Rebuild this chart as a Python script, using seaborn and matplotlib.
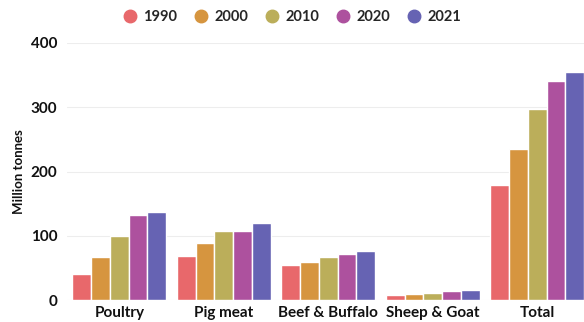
import matplotlib
matplotlib.use("Agg")
import matplotlib.pyplot as plt
import seaborn as sns
import pandas as pd
from matplotlib.lines import Line2D

categories = ["Poultry", "Pig meat", "Beef & Buffalo", "Sheep & Goat", "Total"]
years = ["1990", "2000", "2010", "2020", "2021"]
v1990 = [40, 68, 54, 8, 179]
v2000 = [67, 89, 59, 10, 235]
v2010 = [100, 107, 67, 11, 297]
v2020 = [132, 107, 72, 14, 341]
v2021 = [137, 120, 76, 15, 355]
colors = ["#E8686B", "#D6953F", "#BBAE5A", "#AD519E", "#6663B3"]

rows = []
for y, vals in zip(years, [v1990, v2000, v2010, v2020, v2021]):
    for c, v in zip(categories, vals):
        rows.append({"cat": c, "year": y, "val": v})
df = pd.DataFrame(rows)

sns.set_style("white")
plt.rcParams["font.family"] = ["Lato", "DejaVu Sans"]

fig = plt.figure(figsize=(5.84, 3.22), dpi=100)
ax = fig.add_axes([67 / 584, 22 / 322, 1 - 67 / 584, (300 - 43) / 322])

sns.barplot(data=df, x="cat", y="val", hue="year", order=categories,
            hue_order=years, palette=colors, width=0.9, saturation=1,
            edgecolor="white", linewidth=1.0, ax=ax, legend=False)

ax.set_ylim(0, 400)
ax.set_xlim(-0.5, (584 - 67) / 104.5 - 0.5)
ax.set_yticks([0, 100, 200, 300, 400])
ax.yaxis.grid(True, color="#EDEDED", linewidth=0.8)
ax.set_axisbelow(True)
for s in ax.spines.values():
    s.set_visible(False)
ax.tick_params(axis="both", length=0, labelsize=11, colors="#111111")
ax.tick_params(axis="y", pad=7)
ax.tick_params(axis="x", pad=4)
for lab in ax.get_xticklabels() + ax.get_yticklabels():
    lab.set_fontweight("bold")
ax.set_xlabel("")
ax.set_ylabel("Million tonnes", fontsize=9.5, fontweight="bold", color="#111111", labelpad=4)

handles = [Line2D([0], [0], marker="o", linestyle="", markersize=9,
                  markerfacecolor=c, markeredgecolor=c) for c in colors]
leg = fig.legend(handles, years, loc="center", bbox_to_anchor=(0.5, 0.947),
                 ncol=5, frameon=False, handlelength=1.0, handletextpad=0.4,
                 columnspacing=1.15, prop={"weight": "bold", "size": 10.5})

fig.savefig("out.png", dpi=100)
